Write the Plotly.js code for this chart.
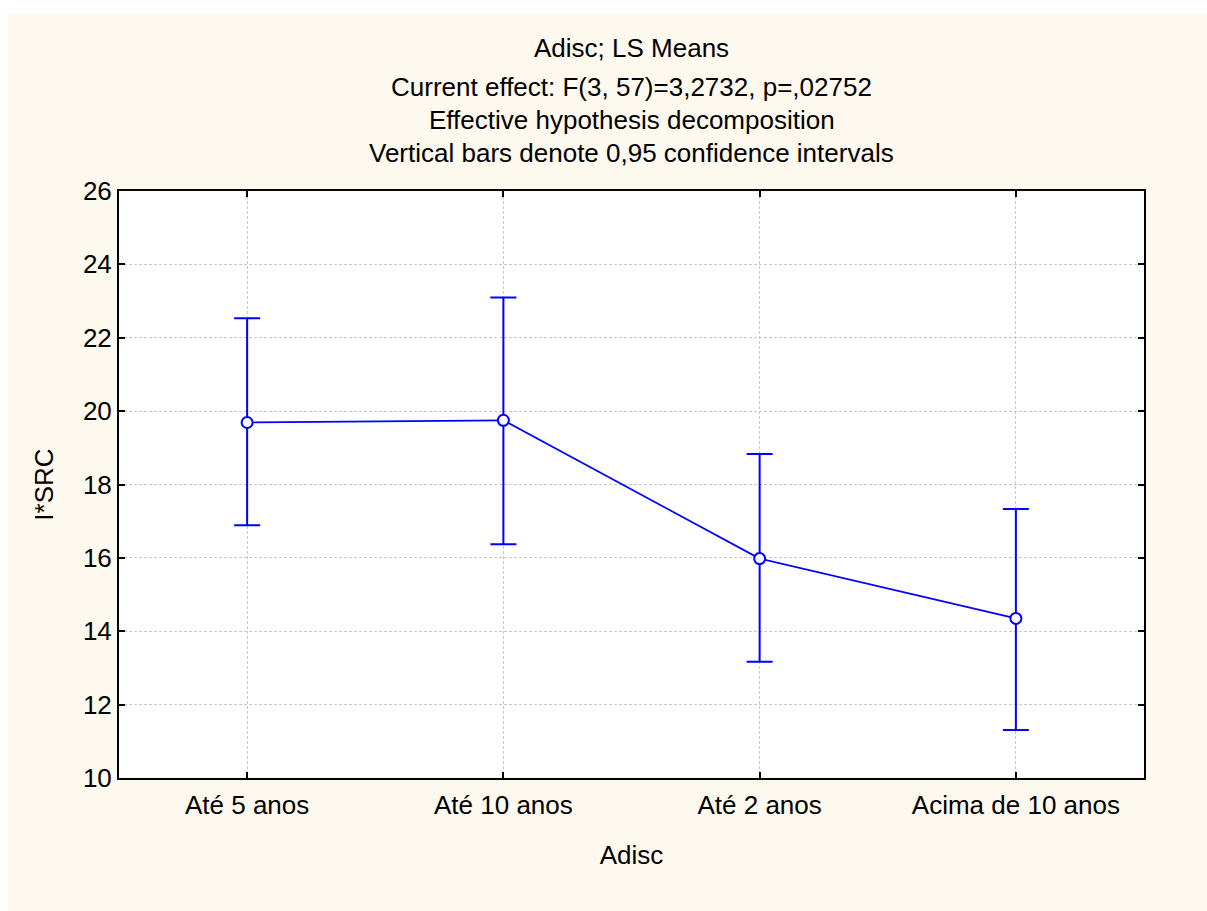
<!DOCTYPE html>
<html><head><meta charset="utf-8">
<script src="https://cdn.plot.ly/plotly-3.0.1.min.js"></script>
<style>
html,body{margin:0;padding:0;background:#ffffff;}
#chart{position:absolute;left:8px;top:13px;width:1199px;height:898px;}
</style></head>
<body><div id="chart"></div>
<script>
const categories = ["Até 5 anos", "Até 10 anos", "Até 2 anos", "Acima de 10 anos"];
const means = [19.69, 19.75, 15.98, 14.35];
const upper = [22.53, 23.10, 18.83, 17.33];
const lower = [16.89, 16.37, 13.17, 11.31];
const yTicks = [10, 12, 14, 16, 18, 20, 22, 24, 26];
const titleLines = ["Adisc; LS Means", "Current effect: F(3, 57)=3,2732, p=,02752", "Effective hypothesis decomposition", "Vertical bars denote 0,95 confidence intervals"];
const xTitle = "Adisc";
const yTitle = "I*SRC";

const errPlus = upper.map((u,i)=>u-means[i]);
const errMinus = means.map((m,i)=>m-lower[i]);
const FONT = "Liberation Sans, Arial, sans-serif";
const FS = 26;
const blue = "#0000ff";

const trace = {
  x: categories, y: means, type: "scatter", mode: "lines+markers",
  line: {color: blue, width: 1.7},
  marker: {symbol: "circle", size: 11, color: "#ffffff", line: {color: blue, width: 2}},
  error_y: {type: "data", symmetric: false, array: errPlus, arrayminus: errMinus, color: blue, thickness: 2, width: 13},
  cliponaxis: false, hoverinfo: "skip"
};

const plotTop = 190.7, plotH = 587.3;
const linePx = [48, 87, 120, 153];
const annotations = titleLines.map((t,i)=>({
  text: t, xref: "paper", yref: "paper", x: 0.5, y: 1 + (plotTop - linePx[i]) / plotH,
  xanchor: "center", yanchor: "middle", showarrow: false,
  font: {family: FONT, size: FS, color: "#000000"}
}));

const layout = {
  width: 1199, height: 898,
  paper_bgcolor: "#fef9ee", plot_bgcolor: "#ffffff",
  margin: {l: 111, r: 63, t: 178, b: 133},
  showlegend: false,
  font: {family: FONT, size: FS, color: "#000000"},
  annotations: annotations,
  xaxis: {
    type: "category", range: [-0.5, 3.5],
    showline: true, linecolor: "#000000", linewidth: 2, mirror: "ticks",
    ticks: "inside", ticklen: 6, tickwidth: 2, tickcolor: "#000000",
    showgrid: true, gridcolor: "#c8c8c8", gridwidth: 1, griddash: "3px,2px",
    zeroline: false, ticklabelstandoff: 3,
    tickfont: {family: FONT, size: FS, color: "#000000"},
    title: {text: xTitle, font: {family: FONT, size: FS, color: "#000000"}, standoff: 27}
  },
  yaxis: {
    range: [10, 26], tickvals: yTicks, ticktext: yTicks.map(String),
    showline: true, linecolor: "#000000", linewidth: 2, mirror: "ticks",
    ticks: "inside", ticklen: 6, tickwidth: 2, tickcolor: "#000000",
    showgrid: true, gridcolor: "#c8c8c8", gridwidth: 1, griddash: "3px,2px",
    zeroline: false,
    tickfont: {family: FONT, size: FS, color: "#000000"},
    title: {text: yTitle, font: {family: FONT, size: FS, color: "#000000"}, standoff: 22}
  }
};

Plotly.newPlot("chart", [trace], layout, {displayModeBar: false, staticPlot: true});
</script></body></html>
